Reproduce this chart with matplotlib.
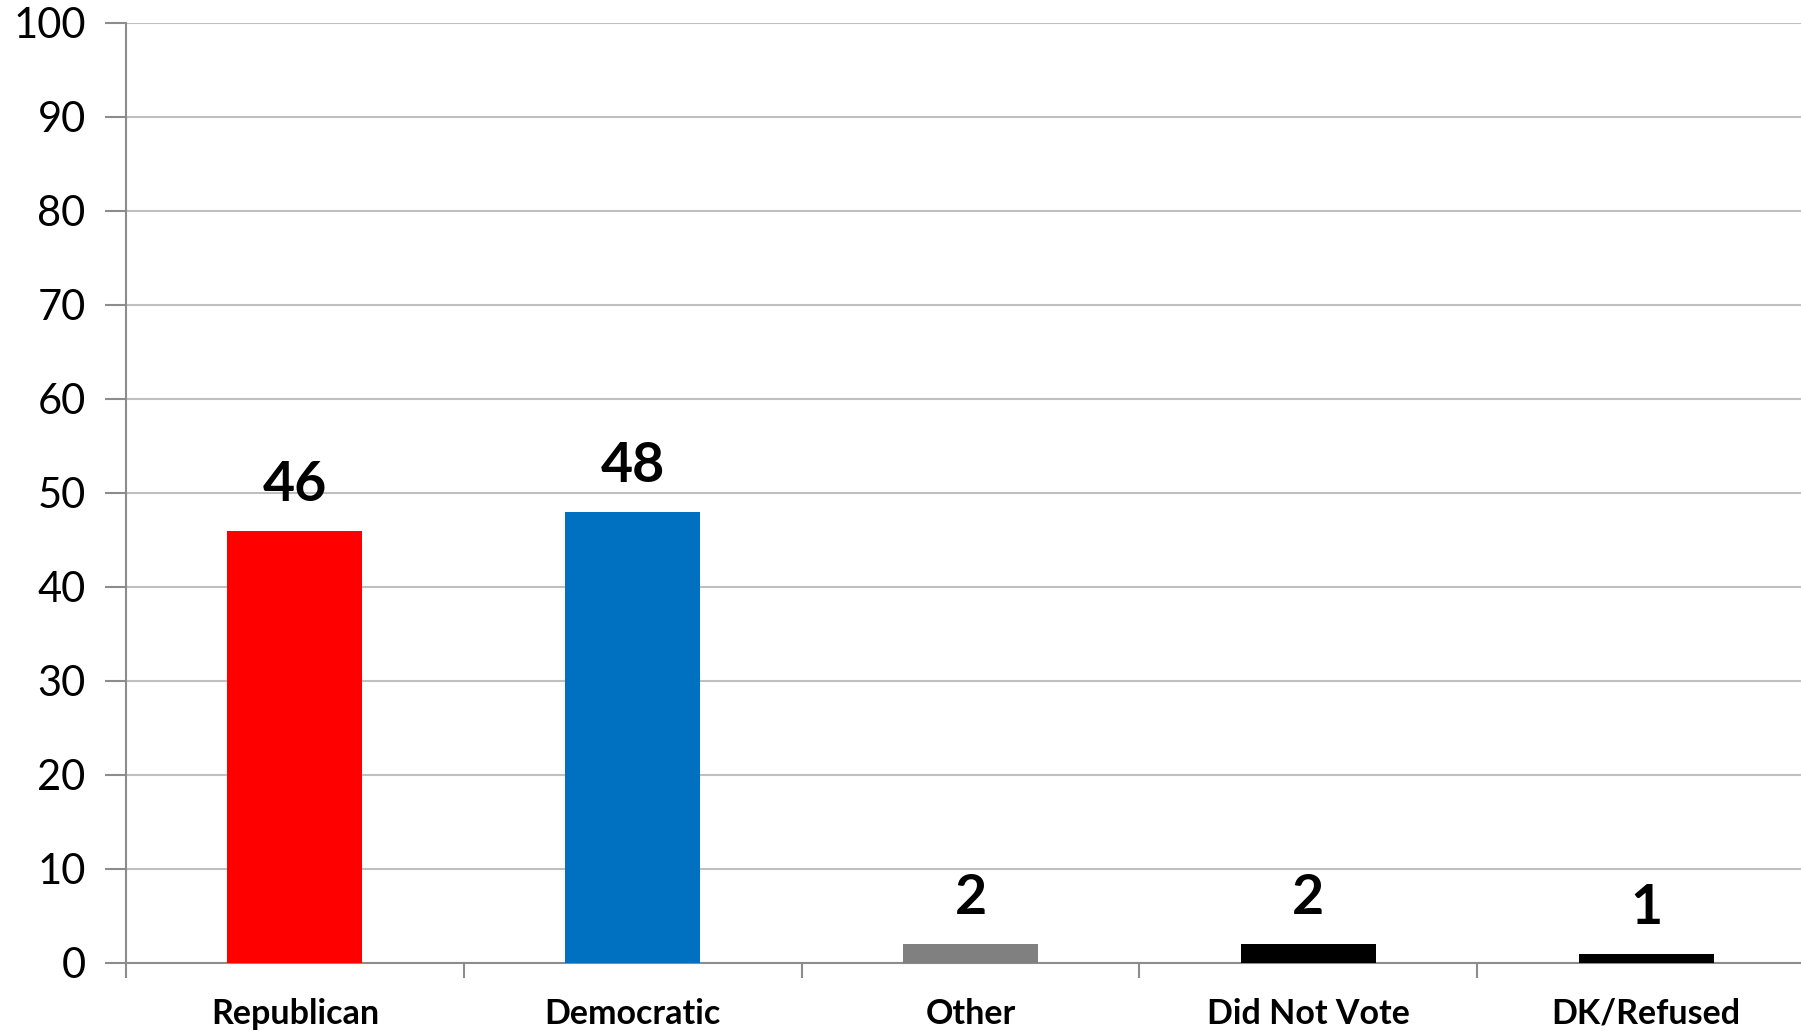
import numpy as np
import matplotlib.pyplot as plt

plt.rcParams['font.family'] = ['Lato', 'DejaVu Sans']

categories = ['Republican', 'Democratic', 'Other', 'Did Not Vote', 'DK/Refused']
values = [46, 48, 2, 2, 1]
colors = ['#FF0000', '#0070C0', '#808080', '#000000', '#000000']
yticks = [0, 10, 20, 30, 40, 50, 60, 70, 80, 90, 100]

fig = plt.figure(figsize=(18.01, 10.31), dpi=100)
# plot area runs a little past the right edge of the image
ax = fig.add_axes([126 / 1801, 1 - 963 / 1031, 1689 / 1801, 940 / 1031])

x = np.arange(len(categories))
bars = ax.bar(x, values, width=0.4, color=colors, zorder=3)
ax.bar_label(bars, labels=[str(v) for v in values], padding=15,
             fontsize=40, fontweight='bold')

ax.set_xlim(-0.5, len(categories) - 0.5)
ax.set_ylim(0, 100)
ax.set_yticks(yticks)
ax.yaxis.grid(True, color='#BFBFBF', linewidth=1.5, zorder=0)

ax.set_xticks(np.arange(-0.5, len(categories), 1.0))
ax.set_xticklabels([])
ax.set_xticks(x, minor=True)
ax.set_xticklabels(categories, minor=True, fontsize=24.5, fontweight='bold')
ax.tick_params(axis='x', which='minor', length=0, pad=25)
ax.tick_params(axis='x', which='major', length=11, width=1.5, color='#8C8C8C')
ax.tick_params(axis='y', length=15, width=1.5, color='#8C8C8C',
               labelsize=30, pad=14)

for s in ['top', 'right']:
    ax.spines[s].set_visible(False)
for s in ['left', 'bottom']:
    ax.spines[s].set_color('#8C8C8C')
    ax.spines[s].set_linewidth(1.5)

fig.savefig('out.png', dpi=100)
